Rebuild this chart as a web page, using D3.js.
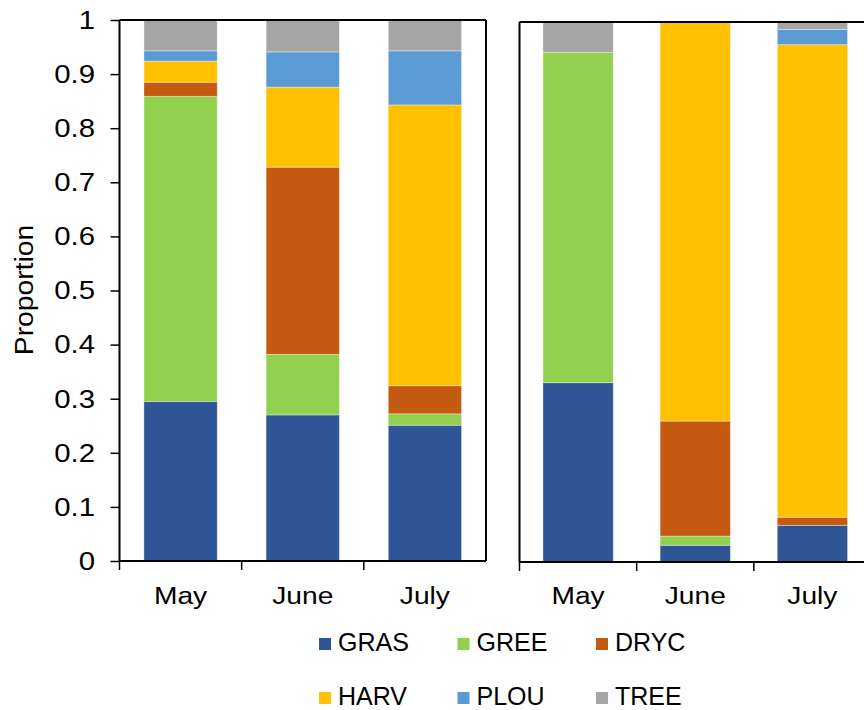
<!DOCTYPE html>
<html>
<head>
<meta charset="utf-8">
<script src="https://cdn.jsdelivr.net/npm/d3@7"></script>
<style>
  body{margin:0;background:#fff;}
  svg{display:block;font-family:"Liberation Sans",Arial,sans-serif;}
</style>
</head>
<body>
<svg id="chart" width="864" height="710"></svg>
<script>
const months=["May","June","July"];
const cover=["GRAS","GREE","DRYC","HARV","PLOU","TREE"];
const colors=["#2F5597","#92D050","#C55A11","#FFC000","#5B9BD5","#A5A5A5"];
const yTicks=[0,0.1,0.2,0.3,0.4,0.5,0.6,0.7,0.8,0.9,1];

// left panel
const gras1=[0.295,0.270,0.251];
const gree1=[0.564,0.112,0.021];
const dryc1=[0.026,0.346,0.052];
const harv1=[0.039,0.148,0.519];
const plou1=[0.019,0.065,0.100];
const tree1=[0.057,0.059,0.057];

// right panel
const gras2=[0.332,0.031,0.068];
const gree2=[0.612,0.017,0.000];
const dryc2=[0.000,0.213,0.015];
const harv2=[0.000,0.739,0.875];
const plou2=[0.000,0.000,0.028];
const tree2=[0.056,0.000,0.014];

const rows=(series)=>months.map((m,i)=>{
  let r={month:m};
  cover.forEach((c,j)=>{ r[c]=series[j][i]; });
  return r;
});

const svg=d3.select("#chart");
const color=d3.scaleOrdinal().domain(cover).range(colors);
const stack=d3.stack().keys(cover);

const drawPanel=(data,x0,x1,yBottom,yTop,withYAxis,rightBorder)=>{
  let x=d3.scaleBand().domain(months).range([x0,x1]).paddingInner(0.4).paddingOuter(0.2);
  let y=d3.scaleLinear().domain([0,1]).range([yBottom,yTop]);
  let g=svg.append("g");

  g.selectAll("g.layer")
    .data(stack(data))
    .enter()
      .append("g")
      .attr("class","layer")
      .attr("fill",(d)=>color(d.key))
    .selectAll("rect")
    .data((d)=>d.filter((p)=>p[1]-p[0]>0))
    .enter()
      .append("rect")
      .attr("x",(p)=>x(p.data.month))
      .attr("width",x.bandwidth())
      .attr("y",(p)=>y(p[1]))
      .attr("height",(p)=>y(p[0])-y(p[1]))
      .attr("stroke","#fff")
      .attr("stroke-width",0.8)
      .attr("stroke-opacity",0.45);

  // frame
  g.append("line").attr("x1",x0).attr("x2",x1).attr("y1",yTop).attr("y2",yTop)
    .attr("stroke","#000").attr("stroke-width",2);
  g.append("line").attr("x1",x0).attr("x2",x1).attr("y1",yBottom).attr("y2",yBottom)
    .attr("stroke","#000").attr("stroke-width",2);
  g.append("line").attr("x1",x0).attr("x2",x0).attr("y1",yTop).attr("y2",yBottom)
    .attr("stroke","#000").attr("stroke-width",2);
  if(rightBorder){
    g.append("line").attr("x1",x1).attr("x2",x1).attr("y1",yTop).attr("y2",yBottom)
      .attr("stroke","#000").attr("stroke-width",2);
  }

  // x ticks at band boundaries
  let offset=x.step()*x.paddingOuter();
  g.selectAll("line.xtick")
    .data(months)
    .enter()
      .append("line")
      .attr("class","xtick")
      .attr("x1",(d)=>x(d)-offset)
      .attr("x2",(d)=>x(d)-offset)
      .attr("y1",yBottom)
      .attr("y2",yBottom+9)
      .attr("stroke","#000")
      .attr("stroke-width",1.5);

  g.selectAll("text.xlab")
    .data(months)
    .enter()
      .append("text")
      .attr("class","xlab")
      .attr("text-anchor","middle")
      .attr("font-size",24.5)
      .attr("transform",(d)=>`translate(${x(d)+x.bandwidth()/2},604) scale(1.15,1)`)
      .text((d)=>d);

  if(withYAxis){
    let ax=g.append("g")
      .attr("transform",`translate(${x0},0)`)
      .call(d3.axisLeft(y).tickValues(yTicks).tickSize(9).tickSizeOuter(0).tickPadding(12.7).tickFormat(d3.format("~g")));
    ax.select(".domain").remove();
    ax.selectAll(".tick line").attr("stroke","#000").attr("stroke-width",1.5);
    ax.selectAll(".tick text")
      .attr("font-size",26)
      .attr("font-family","Liberation Sans, Arial, sans-serif")
      .attr("fill","#000")
      .attr("transform","scale(1.13,1)");
  }
};

drawPanel(rows([gras1,gree1,dryc1,harv1,plou1,tree1]),119.5,486,561,20,true,true);
drawPanel(rows([gras2,gree2,dryc2,harv2,plou2,tree2]),519.5,871,562,22,false,false);

svg.append("text")
  .attr("text-anchor","middle")
  .attr("font-size",25)
  .attr("transform","translate(33,290) rotate(-90) scale(1.13,1)")
  .text("Proportion");

// legend
let legend=svg.selectAll("g.legend")
  .data(cover)
  .enter()
    .append("g")
    .attr("class","legend")
    .attr("transform",(d,i)=>`translate(${319+(i%3)*138.5},${638+Math.floor(i/3)*54})`);
legend.append("rect")
  .attr("width",12)
  .attr("height",12)
  .attr("fill",(d)=>color(d));
legend.append("text")
  .attr("x",19)
  .attr("y",13)
  .attr("font-size",25)
  .text((d)=>d);
</script>
</body>
</html>
